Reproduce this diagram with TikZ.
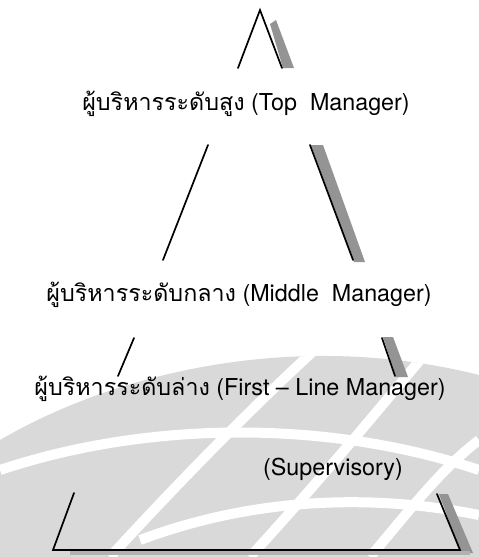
\documentclass[tikz,border=0pt]{standalone}
\usepackage{fontspec}
\setmainfont{TeX Gyre Heros}
\newfontfamily\thaifont[Script=Thai]{Loma}
\newcommand\thaitxt[1]{{\thaifont #1}}
\begin{document}
\begin{tikzpicture}[x=1pt,y=-1pt,
  edge/.style={line width=1.7pt,line cap=round,line join=miter},
  shade/.style={fill=black!42,draw=none},
  lbl/.style={inner sep=0pt,font=\fontsize{23.3}{26}\selectfont},
  wm/.style={fill=black!15,draw=none},
  gap/.style={draw=white,line width=10pt}]
\useasboundingbox (0,0) rectangle (479,557);
% watermark (faint background)
\begin{scope}
\clip (0,557) -- (0,440) .. controls (120,370) and (300,330) .. (479,375) -- (479,557) -- cycle;
\fill[wm] (0,330) rectangle (479,557);
\draw[gap] (110,557) .. controls (190,470) and (260,400) .. (320,345);
\draw[gap] (250,557) .. controls (320,480) and (370,420) .. (420,360);
\draw[gap] (370,557) .. controls (410,510) and (440,470) .. (479,440);
\draw[gap] (0,470) .. controls (150,420) and (330,420) .. (479,470);
\draw[gap] (140,540) .. controls (260,495) and (380,495) .. (479,515);
\end{scope}
% shadows
\fill[shade] (270,24) -- (276,20) -- (294,68) -- (283,68) -- cycle;
\fill[shade] (311,145) -- (323,145) -- (365,262) -- (354,262) -- cycle;
\fill[shade] (383,337) -- (393,337) -- (408,377) -- (396,377) -- cycle;
\fill[shade] (439,494) -- (448,494) -- (473,553) -- (461,553) -- cycle;
\fill[black!30] (70,551) rectangle (470,555);
% pyramid edges
\coordinate (apex) at (260,10);
\coordinate (a1) at (238,68);
\coordinate (a2) at (282,68);
\coordinate (b1) at (208,145);
\coordinate (b2) at (163,260);
\coordinate (b3) at (310,145);
\coordinate (b4) at (353,260);
\coordinate (c1) at (134,338);
\coordinate (c2) at (118,376);
\coordinate (c3) at (382,338);
\coordinate (c4) at (395,376);
\coordinate (d1) at (74,493);
\coordinate (d2) at (53,550);
\coordinate (d3) at (460,550);
\coordinate (d4) at (437,494);
\draw[edge] (a1) -- (apex) -- (a2);
\draw[edge] (b1) -- (b2);
\draw[edge] (b3) -- (b4);
\draw[edge] (c1) -- (c2);
\draw[edge] (c3) -- (c4);
\draw[edge] (d1) -- (d2) -- (d3) -- (d4);
% labels
\node[lbl] (top) at (246,104) {\thaitxt{ผู้บริหารระดับสูง} (Top~~Manager)};
\node[lbl] (mid) at (239,295) {\thaitxt{ผู้บริหารระดับกลาง} (Middle~~Manager)};
\node[lbl] (low) at (240,389) {\thaitxt{ผู้บริหารระดับล่าง} (First -- Line Manager)};
\node[lbl] (sup) at (333,469) {(Supervisory)};
\end{tikzpicture}
\end{document}
